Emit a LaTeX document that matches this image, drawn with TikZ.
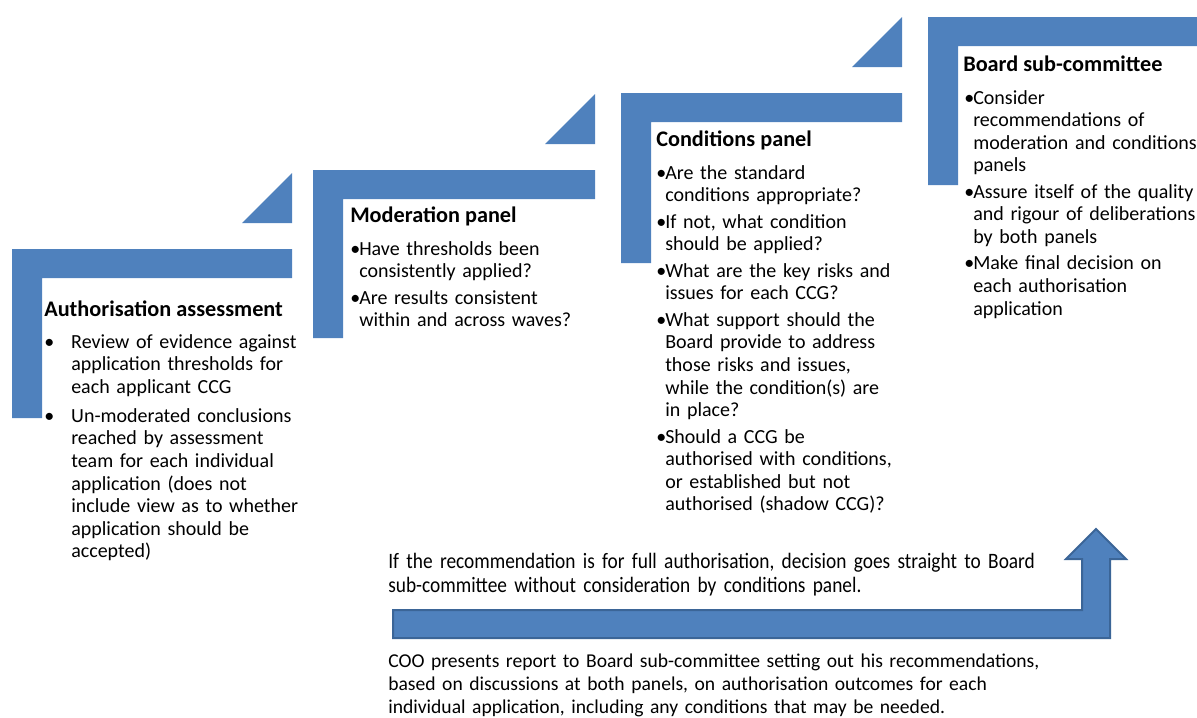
\documentclass[tikz,border=0pt]{standalone}
\usepackage{fontspec}
\setmainfont{Carlito}
\newfontfamily\narrowfont[FakeStretch=0.88]{Carlito}
\definecolor{stepblue}{HTML}{4F81BD}
\definecolor{stepedge}{HTML}{3B6597}
\newcommand\bodyfont{\fontsize{15}{16.95}\selectfont}
\newcommand\itm[1][6.75pt]{\hangindent=#1\hangafter=1\noindent\makebox[#1][l]{\textbullet}}
\tikzset{
	stepbar/.style={fill=stepblue},
	ttl/.style={anchor=base west, inner sep=0pt, font=\fontsize{16.7}{20}\selectfont\bfseries},
	body/.style={anchor=base west, inner sep=0pt, align=left, text width=200pt, font=\bodyfont\setlength{\parskip}{#1}},
	body/.default=2.9pt,
	note/.style={anchor=base west, inner sep=0pt, align=left, text width=560pt}
}
\begin{document}
\begin{tikzpicture}[x=0.75pt, y=-0.75pt]
	\useasboundingbox (0,0) rectangle (1197,718);
	\foreach \xa/\ya/\xb/\yb in {12/249/292/418, 313/170/595/338, 621/93/902/263, 928/17/1197/185}
	{
		\fill[stepbar] (\xa,\ya) -- (\xb,\ya) -- (\xb,\ya+29) -- (\xa+30,\ya+29) -- (\xa+30,\yb) -- (\xa,\yb) -- cycle;
	}
	\foreach \xb/\ya in {292/249, 595/170, 902/93}
	{
		\fill[stepbar] (\xb-50,\ya-26) -- (\xb,\ya-26) -- (\xb,\ya-76) -- cycle;
	}
	\foreach \name/\x/\y/\labl in {
		assess/44/316/{Authorisation assessment},
		moderation/350/222/{Moderation panel},
		conditions/656/146/{Conditions panel},
		board/963/71/{Board sub-committee}
	}
	{
		\node[ttl] (\name) at (\x,\y) {\labl};
	}
	\node[body=4.8pt] (assess text) at (44,348) {%
		\itm[20.25pt]Review of evidence against\newline application thresholds for\newline each applicant CCG\par
		\itm[20.25pt]Un-moderated conclusions\newline reached by assessment\newline team for each individual\newline application (does not\newline include view as to whether\newline application should be\newline accepted)\par};
	\node[body] (moderation text) at (350,255) {%
		\itm Have thresholds been\newline consistently applied?\par
		\itm Are results consistent\newline within and across waves?\par};
	\node[body] (conditions text) at (656,179) {%
		\itm Are the standard\newline conditions appropriate?\par
		\itm If not, what condition\newline should be applied?\par
		\itm What are the key risks and\newline issues for each CCG?\par
		\itm What support should the\newline Board provide to address\newline those risks and issues,\newline while the condition(s) are\newline in place?\par
		\itm Should a CCG be\newline authorised with conditions,\newline or established but not\newline authorised (shadow CCG)?\par};
	\node[body] (board text) at (964,104) {%
		\itm Consider\newline recommendations of\newline moderation and conditions\newline panels\par
		\itm Assure itself of the quality\newline and rigour of deliberations\newline by both panels\par
		\itm Make final decision on\newline each authorisation\newline application\par};
	\node[note, font=\narrowfont\fontsize{16.5}{18}\selectfont] (bypass) at (388,568) {If the recommendation is for full authorisation, decision goes straight to Board\\sub-committee without consideration by conditions panel.};
	\node[note, font=\fontsize{14.7}{17.6}\selectfont] (coo) at (388,667) {COO presents report to Board sub-committee setting out his recommendations,\\based on discussions at both panels, on authorisation outcomes for each\\individual application, including any conditions that may be needed.};
	\fill[stepblue, draw=stepedge, line width=1.5pt] (393,610) -- (1082,610) -- (1082,559) -- (1066,559) -- (1096,529) -- (1126,559) -- (1110,559) -- (1110,638) -- (393,638) -- cycle;
\end{tikzpicture}
\end{document}
